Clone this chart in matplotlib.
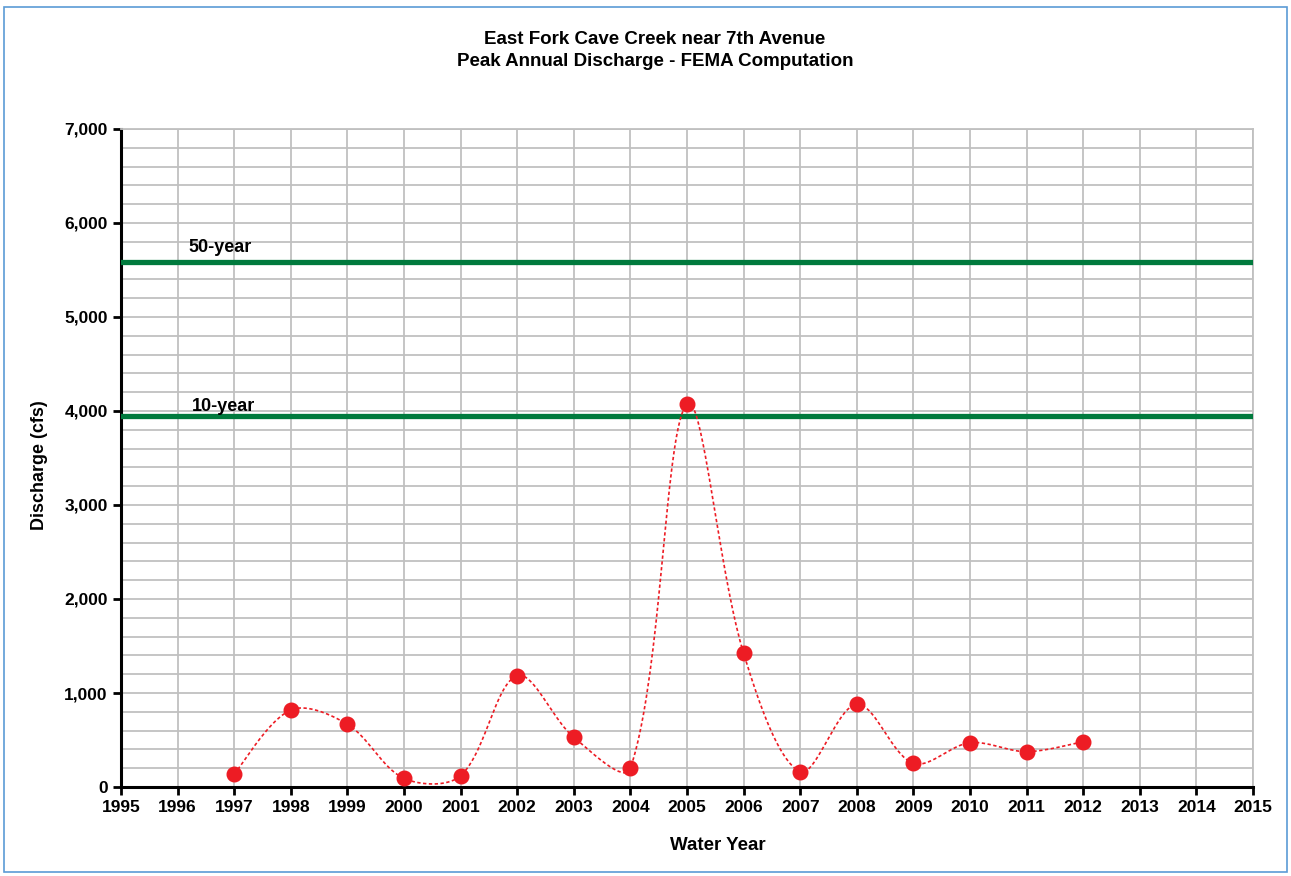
import matplotlib
matplotlib.use("Agg")
import matplotlib.pyplot as plt
from matplotlib.patches import Rectangle
from matplotlib.ticker import MultipleLocator, FuncFormatter
import numpy as np

plt.rcParams['font.family'] = ['Liberation Sans', 'DejaVu Sans']

# peak annual discharge (cfs)
years = [1997, 1998, 1999, 2000, 2001, 2002, 2003, 2004, 2005, 2006,
         2007, 2008, 2009, 2010, 2011, 2012]
peaks = [138, 819, 667, 92, 120, 1184, 529, 199, 4074, 1422,
         163, 880, 252, 471, 376, 482]
q50 = 5585
q10 = 3947
ref_labels = ["50-year", "10-year"]

red = "#ED1C24"
green = "#007A3D"

def smooth(xs, ys, sx=56.6, sy=0.094, n=40):
    # excel-like smoothed line: bezier, tangents weighted by chord length (screen px)
    X = np.asarray(xs, float) * sx
    Y = np.asarray(ys, float) * sy
    P = np.column_stack([X, Y])
    m = len(P)
    T = np.zeros_like(P)
    for i in range(m):
        a = P[i - 1] if i > 0 else P[i]
        b = P[i + 1] if i < m - 1 else P[i]
        T[i] = (b - a) / 6
    d = np.hypot(*(P[1:] - P[:-1]).T)
    out = []
    for i in range(m - 1):
        p1, p2 = P[i], P[i + 1]
        dprev = d[i - 1] if i > 0 else d[i]
        dnext = d[i + 1] if i + 1 < m - 1 else d[i]
        k1 = 2 * d[i] / (dprev + d[i]) if i > 0 else 1
        k2 = 2 * d[i] / (d[i] + dnext) if i + 1 < m - 1 else 1
        c1 = p1 + T[i] * k1
        c2 = p2 - T[i + 1] * k2
        t = np.linspace(0, 1, n)[:, None]
        seg = (1 - t) ** 3 * p1 + 3 * (1 - t) ** 2 * t * c1 + 3 * (1 - t) * t ** 2 * c2 + t ** 3 * p2
        out.append(seg)
    out = np.vstack(out)
    return out[:, 0] / sx, out[:, 1] / sy

fig = plt.figure(figsize=(12.91, 8.76), dpi=100)
ax = fig.add_axes([121 / 1291, 1 - 787 / 876, (1253 - 121) / 1291, (787 - 129) / 876])

# outer frame
fig.patches.append(Rectangle((4 / 1291, 4 / 876), 1283 / 1291, 865 / 876,
                             transform=fig.transFigure, fill=False,
                             edgecolor="#5B9BD5", linewidth=1.2))

ax.set_xlim(1995, 2015)
ax.set_ylim(0, 7000)
ax.xaxis.set_major_locator(MultipleLocator(1))
ax.yaxis.set_major_locator(MultipleLocator(1000))
ax.yaxis.set_minor_locator(MultipleLocator(200))
ax.yaxis.set_major_formatter(FuncFormatter(lambda v, p: f"{int(v):,}"))
ax.grid(which="both", color="#C0C0C0", linewidth=1.3)
ax.set_axisbelow(True)
ax.tick_params(axis="y", which="minor", length=0)
ax.tick_params(which="major", direction="out", length=6, width=2, labelsize=12.5)
for lab in ax.get_xticklabels() + ax.get_yticklabels():
    lab.set_fontweight("bold")
ax.spines["left"].set_linewidth(2.2)
ax.spines["bottom"].set_linewidth(2.2)
ax.spines["top"].set_color("#C0C0C0")
ax.spines["right"].set_color("#C0C0C0")
ax.spines["top"].set_linewidth(1.3)
ax.spines["right"].set_linewidth(1.3)

ax.axhline(q50, color=green, linewidth=3.8, zorder=3)
ax.axhline(q10, color=green, linewidth=3.8, zorder=3)
ax.text(1996.2, q50 + 60, ref_labels[0], fontsize=13, fontweight="bold", va="bottom")
ax.text(1996.25, q10 + 10, ref_labels[1], fontsize=13, fontweight="bold", va="bottom")

sx, sy = smooth(years, peaks)
ax.plot(sx, sy, color=red, linestyle=(0, (2, 1.5)), linewidth=1.2, zorder=4, clip_on=False)
ax.plot(years, peaks, linestyle="none", marker="o", markersize=10.5,
        color=red, zorder=5, clip_on=False)

fig.text(655 / 1291, 1 - 40 / 876, "East Fork Cave Creek near 7th Avenue",
         ha="center", va="center", fontsize=13.5, fontweight="bold")
fig.text(655 / 1291, 1 - 61 / 876, "Peak Annual Discharge - FEMA Computation",
         ha="center", va="center", fontsize=13.5, fontweight="bold")
fig.text(718 / 1291, 1 - 846 / 876, "Water Year", ha="center", va="center",
         fontsize=13.5, fontweight="bold")
fig.text(40 / 1291, 1 - 465 / 876, "Discharge (cfs)", ha="center", va="center",
         rotation=90, fontsize=13, fontweight="bold")

fig.savefig("out.png", dpi=100)
